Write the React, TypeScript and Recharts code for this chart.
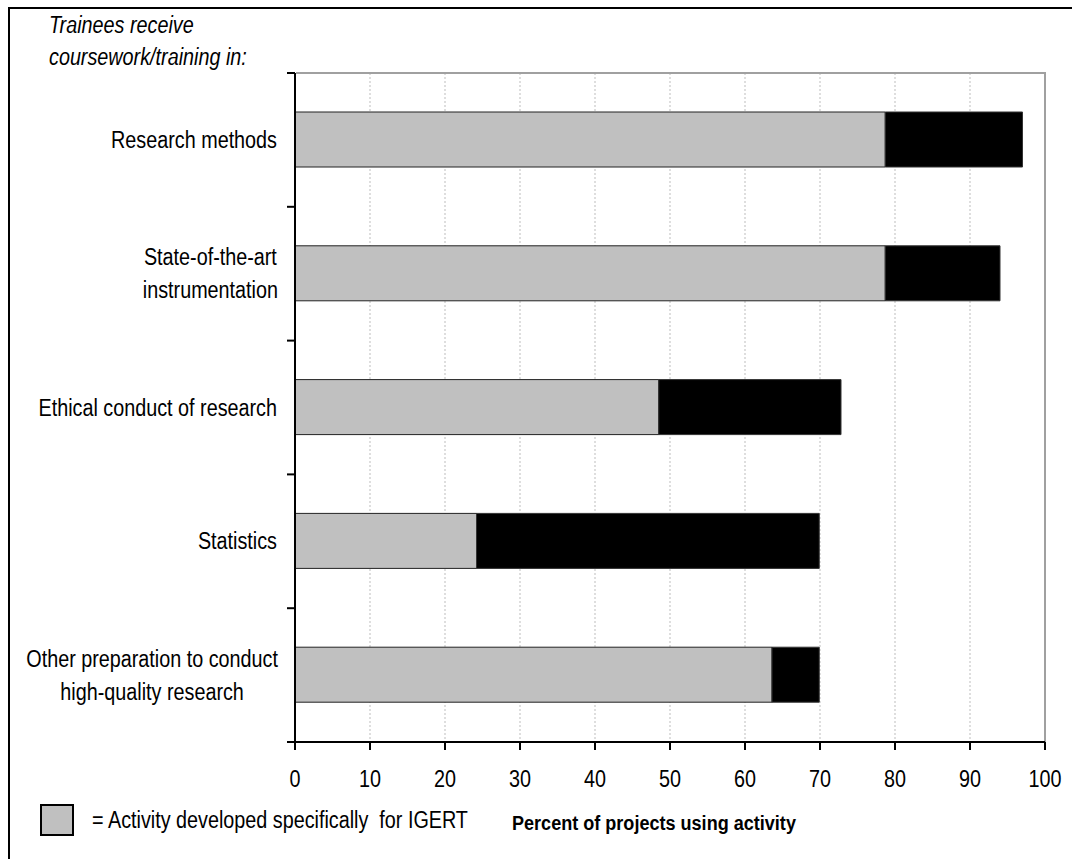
import React from 'react';
import { BarChart, Bar, XAxis, YAxis, CartesianGrid, ReferenceLine } from 'recharts';

// Training areas, top to bottom
const categories = [
  'Research methods',
  'State-of-the-art\ninstrumentation',
  'Ethical conduct of research',
  'Statistics',
  'Other preparation to conduct\nhigh-quality research',
];
// Share of projects where the activity was developed specifically for IGERT
const igertValues = [78.7, 78.7, 48.5, 24.2, 63.6];
// Share of projects using the activity at all
const totalValues = [97.0, 94.0, 72.8, 69.9, 69.9];
const percentTicks = [0, 10, 20, 30, 40, 50, 60, 70, 80, 90, 100];

const rows = categories.map((name, i) => ({
  name,
  igert: igertValues[i],
  other: +(totalValues[i] - igertValues[i]).toFixed(1),
}));

const FONT = '"Liberation Sans", Arial, Helvetica, sans-serif';
const SX = 0.86; // horizontal squeeze on all text
const W = 1062;
const H = 850;
const PLOT_LEFT = 285;
const PLOT_RIGHT = 1035;
const PLOT_TOP = 64;
const PLOT_BOTTOM = 733;
const BAND = (PLOT_BOTTOM - PLOT_TOP) / categories.length;
const LABEL_RIGHT = 267;

let ctx: CanvasRenderingContext2D | null = null;
function measure(s: string, font: string) {
  if (!ctx) ctx = document.createElement('canvas').getContext('2d');
  if (!ctx) return s.length * 11;
  ctx.font = font;
  return ctx.measureText(s).width;
}

function Squeezed({ x, y, anchor = 'start', size = 23, weight = 'normal', italic = false, children }: any) {
  return (
    <text
      transform={`translate(${x},${y}) scale(${SX},1)`}
      textAnchor={anchor}
      fontFamily={FONT}
      fontSize={size}
      fontWeight={weight}
      fontStyle={italic ? 'italic' : 'normal'}
      fill="#000"
    >
      {children}
    </text>
  );
}

function CategoryTick(props: any) {
  const { y, payload } = props;
  const idx = categories.indexOf(payload.value);
  const lines: string[] = String(payload.value).split('\n');
  const lineGap = 33;
  let anchor = 'end';
  let lx = LABEL_RIGHT;
  if (lines.length > 1) {
    const widest = Math.max(...lines.map((l) => measure(l, `23px ${FONT}`))) * SX;
    anchor = 'middle';
    lx = LABEL_RIGHT + 1 - widest / 2;
  }
  const first = y + 8 - ((lines.length - 1) * lineGap) / 2;
  return (
    <g>
      <line x1={PLOT_LEFT - 8} x2={PLOT_LEFT} y1={y - BAND / 2} y2={y - BAND / 2} stroke="#000" strokeWidth={2} />
      {idx === categories.length - 1 && (
        <line x1={PLOT_LEFT - 8} x2={PLOT_LEFT} y1={y + BAND / 2} y2={y + BAND / 2} stroke="#000" strokeWidth={2} />
      )}
      {lines.map((l, i) => (
        <Squeezed key={i} x={lx} y={first + i * lineGap} anchor={anchor}>
          {l}
        </Squeezed>
      ))}
    </g>
  );
}

function PercentTick(props: any) {
  const { x, y, payload } = props;
  return (
    <Squeezed x={x} y={y + 35} anchor="middle">
      {payload.value}
    </Squeezed>
  );
}

export default function App() {
  return (
    <div style={{ position: 'fixed', left: 0, top: 0, width: 1072, height: 859, overflow: 'hidden', background: '#fff' }}>
      {/* outer frame: only top and left edges fall inside the page */}
      <div
        style={{
          position: 'absolute',
          left: 8,
          top: 7,
          right: -10,
          bottom: -10,
          borderTop: '2px solid #000',
          borderLeft: '2px solid #000',
        }}
      />
      <div style={{ position: 'absolute', left: 10, top: 9, width: W, height: H }}>
        <BarChart
          width={W}
          height={H}
          data={rows}
          layout="vertical"
          margin={{ top: PLOT_TOP, right: W - PLOT_RIGHT, bottom: H - PLOT_BOTTOM - 50, left: 0 }}
          barSize={55}
        >
          <CartesianGrid horizontal={false} stroke="#bdbdbd" strokeDasharray="2 2" />
          <XAxis
            type="number"
            domain={[0, 100]}
            ticks={percentTicks}
            interval={0}
            height={50}
            axisLine={{ stroke: '#000', strokeWidth: 2 }}
            tickLine={{ stroke: '#000', strokeWidth: 2 }}
            tickSize={8}
            tick={<PercentTick />}
          />
          <YAxis
            type="category"
            dataKey="name"
            width={PLOT_LEFT}
            interval={0}
            axisLine={{ stroke: '#000', strokeWidth: 2 }}
            tickLine={false}
            tick={<CategoryTick />}
          />
          <ReferenceLine x={100} stroke="#a0a0a0" strokeWidth={2} />
          <Bar dataKey="igert" stackId="a" fill="#c0c0c0" stroke="#222" strokeWidth={1} isAnimationActive={false} />
          <Bar dataKey="other" stackId="a" fill="#000" stroke="#333" strokeWidth={1} isAnimationActive={false} />
        </BarChart>

        <svg
          width={W}
          height={H}
          style={{ position: 'absolute', left: 0, top: 0, pointerEvents: 'none' }}
        >
          {/* plot frame, top edge */}
          <line x1={PLOT_LEFT + 1} x2={PLOT_RIGHT + 1} y1={PLOT_TOP} y2={PLOT_TOP} stroke="#a0a0a0" strokeWidth={2} />

          <Squeezed x={39} y={24} italic>
            Trainees receive
          </Squeezed>
          <Squeezed x={39} y={56} italic>
            coursework/training in:
          </Squeezed>

          <rect x={31} y={796} width={32} height={30} fill="#c0c0c0" stroke="#000" strokeWidth={2} />
          <Squeezed x={82} y={819}>
            {'= Activity developed specifically\u00a0 for IGERT'}
          </Squeezed>

          <Squeezed x={502} y={821} size={21} weight="bold">
            Percent of projects using activity
          </Squeezed>
        </svg>
      </div>
    </div>
  );
}
